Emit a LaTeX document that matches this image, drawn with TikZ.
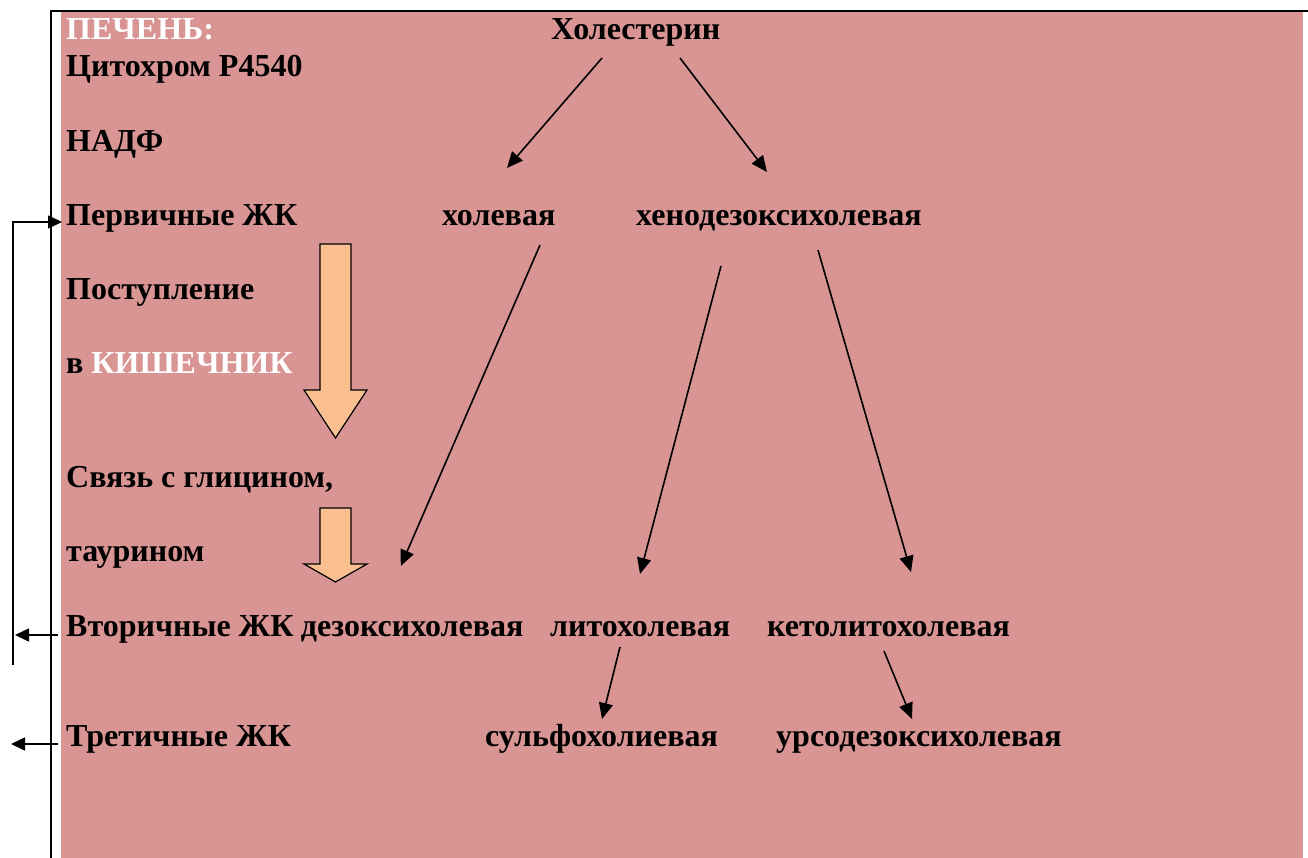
\documentclass[tikz,border=0pt]{standalone}
\usepackage{fontspec}
\setmainfont{Liberation Serif}
\usetikzlibrary{arrows.meta}
\definecolor{liverpink}{RGB}{217,149,148}
\definecolor{flowpeach}{RGB}{250,191,143}
\begin{document}
\begin{tikzpicture}[x=1pt,y=-1pt,
  lbl/.style={font=\fontsize{32}{38}\selectfont\bfseries,anchor=base west,inner sep=0pt},
  conv/.style={line width=1.6pt,-{Triangle[length=16pt,width=14pt]}},
  fb/.style={line width=1.6pt,-{Triangle[length=14pt,width=13pt]}},
  peach/.style={fill=flowpeach,draw=black,line width=1.2pt,line join=miter}]
  \useasboundingbox (0,0) rectangle (1308,858);
  % background and frame
  \fill[liverpink] (61,12.5) rectangle (1303,858);
  \draw[line width=2.5pt] (51,858) -- (51,11) -- (1308,11);
  % left column
  \node[lbl,text=white] (liver) at (66,40) {ПЕЧЕНЬ:};
  \node[lbl] (cyto) at (66,77) {Цитохром Р4540};
  \node[lbl] (nadf) at (66,152) {НАДФ};
  \node[lbl] (perv) at (66,226) {Первичные ЖК};
  \node[lbl] (post) at (66,300) {Поступление};
  \node[lbl] (intest) at (66,373) {в \textcolor{white}{КИШЕЧНИК}};
  \node[lbl] (glyc) at (66,487) {Связь с глицином,};
  \node[lbl] (taur) at (66,561) {таурином};
  \node[lbl] (vtor) at (66,636) {Вторичные ЖК};
  \node[lbl] (tret) at (66,746) {Третичные ЖК};
  % acids
  \node[lbl] (chol) at (551,40) {Холестерин};
  \node[lbl] (holev) at (442,226) {холевая};
  \node[lbl] (xeno) at (636,226) {хенодезоксихолевая};
  \node[lbl,xshift=7pt] (deox) at (vtor.base east) {дезоксихолевая};
  \node[lbl] (lito) at (550,636) {литохолевая};
  \node[lbl] (keto) at (767,636) {кетолитохолевая};
  \node[lbl] (sulfo) at (485,746) {сульфохолиевая};
  \node[lbl] (urso) at (776,746) {урсодезоксихолевая};
  % transformations
  \draw[conv] ([xshift=51pt,yshift=-18pt]chol.base west) -- ([xshift=65pt,yshift=58pt]holev.base west);
  \draw[conv] ([xshift=129pt,yshift=-18pt]chol.base west) -- ([xshift=131pt,yshift=54pt]xeno.base west);
  \draw[conv] ([xshift=98pt,yshift=-19pt]holev.base west) -- ([xshift=100pt,yshift=70pt]deox.base west);
  \draw[conv] ([xshift=85pt,yshift=-40pt]xeno.base west) -- ([xshift=90pt,yshift=62pt]lito.base west);
  \draw[conv] ([xshift=182pt,yshift=-24pt]xeno.base west) -- ([xshift=144pt,yshift=64pt]keto.base west);
  \draw[conv] ([xshift=70pt,yshift=-11pt]lito.base west) -- ([xshift=117pt,yshift=27pt]sulfo.base west);
  \draw[conv] ([xshift=117pt,yshift=-15pt]keto.base west) -- ([xshift=136pt,yshift=27pt]urso.base west);
  % block arrows
  \draw[peach] (320,244) -- (351,244) -- (351,390) -- (367,390) -- (335.5,438) -- (304,390) -- (320,390) -- cycle;
  \draw[peach] (320,508) -- (351,508) -- (351,564) -- (367,564) -- (335.5,582) -- (304,564) -- (320,564) -- cycle;
  % recirculation
  \coordinate (loop) at (13,665);
  \draw[fb] (loop) |- ([xshift=-4pt,yshift=4pt]perv.base west);
  \draw[fb] ([xshift=-8pt,yshift=1pt]vtor.base west) -- ([xshift=-51pt,yshift=1pt]vtor.base west);
  \draw[fb] ([xshift=-8pt,yshift=2pt]tret.base west) -- ([xshift=-55pt,yshift=2pt]tret.base west);
\end{tikzpicture}
\end{document}
